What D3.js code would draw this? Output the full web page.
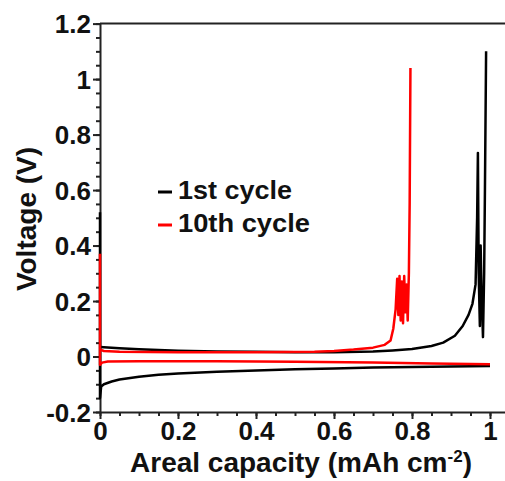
<!DOCTYPE html>
<html>
<head>
<meta charset="utf-8">
<script src="https://cdn.jsdelivr.net/npm/d3@7"></script>
<style>
  html, body { margin: 0; padding: 0; background: #fff; }
  svg { display: block; }
  text { font-family: "Liberation Sans", Arial, sans-serif; font-weight: bold; fill: #111; }
</style>
</head>
<body>
<svg id="chart" width="505" height="481"></svg>
<script>
// ---- Data ----
const seriesNames = ["1st cycle", "10th cycle"];
const seriesColors = ["#000000", "#ff0000"];

const xTickValues = [0, 0.2, 0.4, 0.6, 0.8, 1];
const xTickLabels = ["0", "0.2", "0.4", "0.6", "0.8", "1"];
const yTickValues = [-0.2, 0, 0.2, 0.4, 0.6, 0.8, 1, 1.2];
const yTickLabels = ["-0.2", "0", "0.2", "0.4", "0.6", "0.8", "1", "1.2"];

// 1st cycle, plating (discharge) branch: [capacity, voltage]
const cycle1Discharge = [
  [0, 0.52], [0, -0.15], [0.003, -0.108], [0.01, -0.1], [0.03, -0.09], [0.05, -0.083],
  [0.1, -0.073], [0.15, -0.066], [0.2, -0.061], [0.3, -0.055], [0.4, -0.05],
  [0.5, -0.046], [0.6, -0.043], [0.7, -0.04], [0.8, -0.038], [0.9, -0.036], [1.0, -0.034]
];
// 1st cycle, stripping (charge) branch
const cycle1Charge = [
  [0, 0.034], [0.05, 0.03], [0.1, 0.026], [0.2, 0.021], [0.3, 0.018], [0.4, 0.017],
  [0.5, 0.015], [0.6, 0.015], [0.7, 0.018], [0.75, 0.022], [0.8, 0.027], [0.85, 0.038],
  [0.88, 0.05], [0.91, 0.075], [0.93, 0.11], [0.945, 0.15], [0.955, 0.19], [0.963, 0.26],
  [0.967, 0.5], [0.969, 0.734], [0.971, 0.3], [0.974, 0.11], [0.976, 0.4], [0.978, 0.25],
  [0.982, 0.07], [0.985, 0.3], [0.987, 0.6], [0.99, 1.1]
];
// 10th cycle, plating (discharge) branch
const cycle10Discharge = [
  [0, 0.37], [0, -0.03], [0.005, -0.022], [0.02, -0.018], [0.1, -0.017], [0.3, -0.017],
  [0.5, -0.019], [0.7, -0.022], [0.85, -0.025], [1.0, -0.028]
];
// 10th cycle, stripping (charge) branch
const cycle10Charge = [
  [0, 0.025], [0.01, 0.02], [0.05, 0.017], [0.2, 0.015], [0.4, 0.015], [0.55, 0.017],
  [0.6, 0.02], [0.65, 0.025], [0.7, 0.032], [0.73, 0.042], [0.745, 0.058], [0.752, 0.1],
  [0.758, 0.17], [0.762, 0.28], [0.765, 0.15], [0.768, 0.29], [0.771, 0.13], [0.774, 0.27],
  [0.777, 0.12], [0.78, 0.29], [0.783, 0.16], [0.786, 0.26], [0.789, 0.13], [0.792, 0.3],
  [0.794, 0.55], [0.796, 1.04]
];

const seriesData = [
  [cycle1Discharge, cycle1Charge],
  [cycle10Discharge, cycle10Charge]
];

// ---- Layout ----
const svg = d3.select("#chart");
const x = d3.scaleLinear().domain([0, 1.05]).range([100, 509.5]);
const y = d3.scaleLinear().domain([-0.2, 1.2]).range([412, 23.6]);

const axisColor = "#222";

// Top frame line
svg.append("line")
  .attr("x1", x(0)).attr("x2", 505)
  .attr("y1", y(1.2)).attr("y2", y(1.2))
  .attr("stroke", axisColor).attr("stroke-width", 2);

// X axis: minor ticks
const xMinor = d3.range(0, 1.051, 0.05);
const xAxisG = svg.append("g").attr("transform", `translate(0,${y(-0.2)})`);
xAxisG.call(d3.axisBottom(x).tickValues(xMinor).tickSize(4).tickFormat(""))
  .call(g => g.select(".domain").remove());
xAxisG.append("g").call(d3.axisBottom(x).tickValues(xTickValues).tickSize(7)
    .tickFormat((d, i) => xTickLabels[i]).tickSizeOuter(0))
  .call(g => g.select(".domain").attr("stroke-width", 2));
xAxisG.selectAll("line").attr("stroke", axisColor).attr("stroke-width", 2);
xAxisG.selectAll(".domain").attr("stroke", axisColor);
xAxisG.selectAll("text")
  .attr("font-size", 26).attr("font-family", "'Liberation Sans', Arial, sans-serif")
  .attr("font-weight", "bold").attr("fill", "#111").attr("dy", null).attr("y", 28);

// Y axis
const yMinor = d3.range(-0.2, 1.2001, 0.05);
const yAxisG = svg.append("g").attr("transform", `translate(${x(0)},0)`);
yAxisG.call(d3.axisLeft(y).tickValues(yMinor).tickSize(4).tickFormat(""))
  .call(g => g.select(".domain").remove());
yAxisG.append("g").call(d3.axisLeft(y).tickValues(yTickValues).tickSize(7)
    .tickFormat((d, i) => yTickLabels[i]).tickSizeOuter(0));
yAxisG.selectAll("line").attr("stroke", axisColor).attr("stroke-width", 2);
yAxisG.selectAll(".domain").attr("stroke", axisColor).attr("stroke-width", 2);
yAxisG.selectAll("text")
  .attr("font-size", 26).attr("font-family", "'Liberation Sans', Arial, sans-serif")
  .attr("font-weight", "bold").attr("fill", "#111").attr("x", -9).attr("dy", "0.36em");

// Curves (drawn over the axes)
const line = d3.line().x(d => x(d[0])).y(d => y(d[1]));
seriesData.forEach((branches, i) => {
  branches.forEach(b => {
    svg.append("path")
      .datum(b)
      .attr("d", line)
      .attr("fill", "none")
      .attr("stroke", seriesColors[i])
      .attr("stroke-width", 2.5)
      .attr("stroke-linejoin", "round");
  });
});

// Axis titles
const xTitle = svg.append("text")
  .attr("x", 301).attr("y", 472)
  .attr("text-anchor", "middle")
  .attr("font-size", 28);
xTitle.append("tspan").text("Areal capacity (mAh cm");
xTitle.append("tspan").attr("dy", -10).attr("font-size", 17).text("-2");
xTitle.append("tspan").attr("dy", 10).text(")");

svg.append("text")
  .attr("transform", "translate(36,219) rotate(-90)")
  .attr("text-anchor", "middle")
  .attr("font-size", 28)
  .text("Voltage (V)");

// Legend
const legend = svg.append("g");
seriesNames.forEach((name, i) => {
  const cy = 192 + i * 33;
  legend.append("line")
    .attr("x1", 158).attr("x2", 172)
    .attr("y1", cy).attr("y2", cy)
    .attr("stroke", seriesColors[i]).attr("stroke-width", 3);
  legend.append("text")
    .attr("x", 178).attr("y", cy + 7)
    .attr("font-size", 25)
    .attr("textLength", i === 0 ? 114 : 132)
    .attr("lengthAdjust", "spacingAndGlyphs")
    .text(name);
});
</script>
</body>
</html>
